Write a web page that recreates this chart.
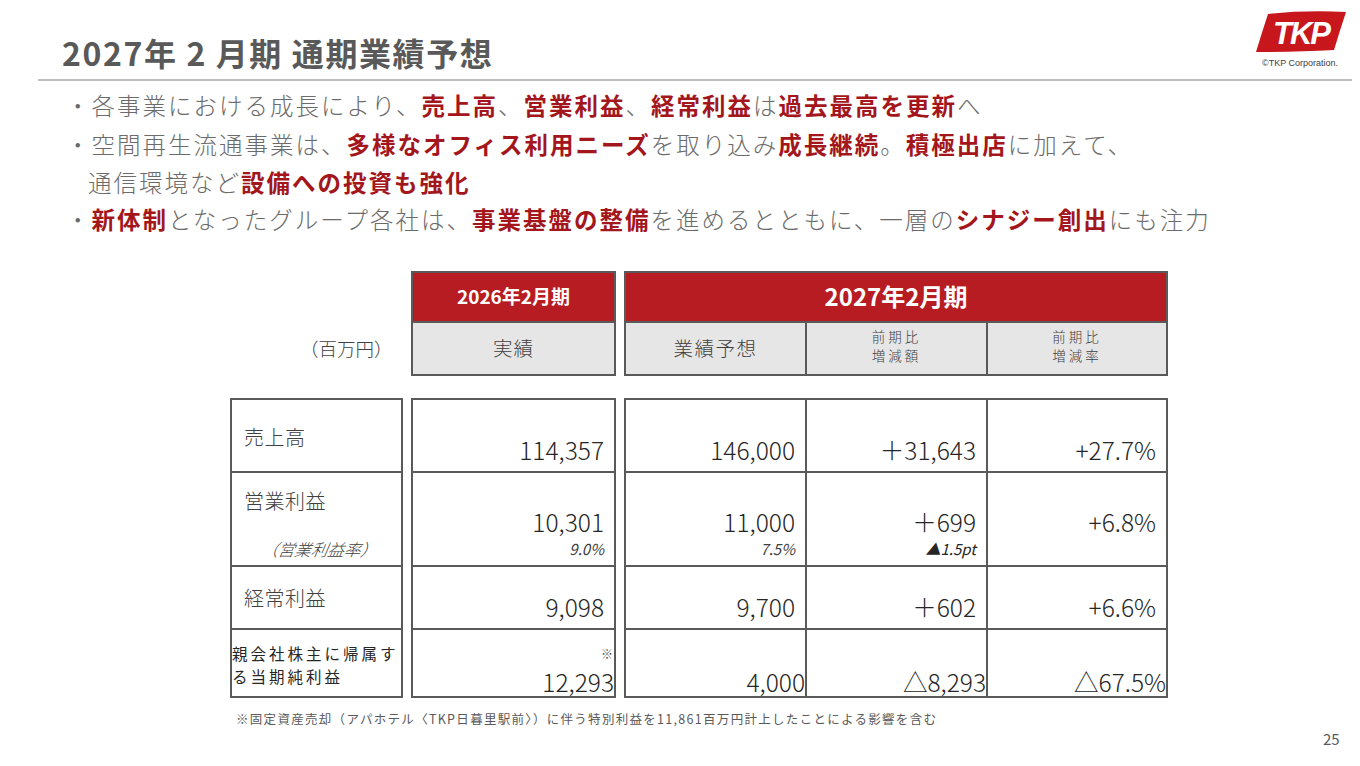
<!DOCTYPE html>
<html lang="ja">
<head>
<meta charset="utf-8">
<script src="https://cdn.jsdelivr.net/npm/chart.js@4.4.1/dist/chart.umd.min.js"></script>
<style>
  html, body { margin: 0; padding: 0; background: #fff; }
  body { width: 1360px; height: 766px; position: relative; overflow: hidden;
         font-family: "Noto Sans CJK JP", "Noto Sans", sans-serif; color: #404040; }
  .abs { position: absolute; white-space: nowrap; }
  #title { left: 62px; top: 29px; font-size: 32px; font-weight: 700; color: #595959; letter-spacing: 1.6px; }
  #rule { left: 38px; top: 79px; width: 1314px; height: 2px; background: #bfbfbf; }
  #copy { left: 1262px; top: 58px; font-family: "Liberation Sans", sans-serif; font-size: 9px; color: #404040; }
  #page { left: 1323px; top: 728px; font-size: 15px; color: #595959; }
  .bullet { left: 66px; font-size: 23.5px; color: #6b6b6b; letter-spacing: 2px; font-weight: 300; }
  .bullet b { color: #a3161c; font-weight: 700; }
  .cell { position: absolute; box-sizing: border-box; border: 2px solid #5a5a5a; }
  .hdr-red { background: #b71c22; color: #fff; font-weight: 700; text-align: center; }
  .hdr-gray { background: #e6e6e6; color: #404040; text-align: center; font-weight: 300; }
  .txt { position: absolute; white-space: nowrap; }
  #note { left: 236px; top: 709px; font-size: 12.5px; color: #595959; letter-spacing: 1.3px; }
</style>
</head>
<body>

<div class="abs" id="title">2027年 2 月期 通期業績予想</div>
<div class="abs" id="rule"></div>
<svg class="abs" style="left:1254px; top:10px" width="96" height="44" viewBox="0 0 96 44">
  <path d="M14 4 Q50 0 92 2 Q86 20 80 40 Q44 42 2 42 Q8 22 14 4 Z" fill="#c8161d"/>
  <text x="47" y="34" text-anchor="middle" font-family="Liberation Sans, sans-serif" font-size="31"
        font-weight="700" font-style="italic" fill="#fff" letter-spacing="-2">TKP</text>
</svg>
<div class="abs" id="copy">©TKP Corporation.</div>

<div class="abs bullet" style="top:88px">・各事業における成長により、<b>売上高</b>、<b>営業利益</b>、<b>経常利益</b>は<b>過去最高を更新</b>へ</div>
<div class="abs bullet" style="top:127px">・空間再生流通事業は、<b>多様なオフィス利用ニーズ</b>を取り込み<b>成長継続</b>。<b>積極出店</b>に加えて、</div>
<div class="abs bullet" style="top:165px; left:88px">通信環境など<b>設備への投資も強化</b></div>
<div class="abs bullet" style="top:202px">・<b>新体制</b>となったグループ各社は、<b>事業基盤の整備</b>を進めるとともに、一層の<b>シナジー創出</b>にも注力</div>

<div id="table"></div>

<div class="abs" id="note">※固定資産売却（アパホテル〈TKP日暮里駅前〉）に伴う特別利益を11,861百万円計上したことによる影響を含む</div>
<div class="abs" id="page">25</div>

<script>
// 表のデータ（百万円）
const periodLabels = ['2026年2月期', '2027年2月期'];
const columnLabels = ['実績', '業績予想', ['前期比', '増減額'], ['前期比', '増減率']];
const rowLabels = [['売上高'], ['営業利益'], ['経常利益'], ['親会社株主に帰属す', 'る当期純利益']];
const actual2026 = [114357, 10301, 9098, 12293];
const forecast2027 = [146000, 11000, 9700, 4000];
const diffAmount = [31643, 699, 602, -8293];
const diffRate = [27.7, 6.8, 6.6, -67.5];
const marginRate = [9.0, 7.5];
const marginDiff = -1.5;

// レイアウト（列と行の境界）
const colX = [[231, 402], [412, 615], [625, 806], [806, 987], [987, 1167]];
const rowY = [399, 472, 566, 629, 697];
const numCenter = [50, 49, 40, 52];
const labelCenter = [37, 28, 31, 23];

const fmt = (v) => Math.abs(v).toLocaleString('en-US');
const fmtAmount = (v) => (v >= 0 ? '＋' : '△') + fmt(v);
const fmtRate = (v) => (v >= 0 ? '+' : '△') + Math.abs(v).toFixed(1) + '%';

const table = document.getElementById('table');

const addCell = (x0, x1, y0, y1, cls, html, style) => {
    const d = document.createElement('div');
    d.className = 'cell ' + (cls || '');
    d.style.left = (x0 - 1) + 'px';
    d.style.top = (y0 - 1) + 'px';
    d.style.width = (x1 - x0 + 2) + 'px';
    d.style.height = (y1 - y0 + 2) + 'px';
    if (style) Object.assign(d.style, style);
    if (html) d.innerHTML = html;
    table.appendChild(d);
    return d;
};

const addText = (parent, html, style) => {
    const s = document.createElement('div');
    s.className = 'txt';
    s.innerHTML = html;
    Object.assign(s.style, style);
    parent.appendChild(s);
    return s;
};

// ヘッダー
addCell(412, 615, 272, 322, 'hdr-red', periodLabels[0], { fontSize: '19px', lineHeight: '46px' });
addCell(625, 1167, 272, 322, 'hdr-red', periodLabels[1], { fontSize: '24px', lineHeight: '46px' });
addCell(412, 615, 322, 375, 'hdr-gray', columnLabels[0], { fontSize: '19.5px', lineHeight: '49px', letterSpacing: '1px' });
addCell(625, 806, 322, 375, 'hdr-gray', columnLabels[1], { fontSize: '19.5px', lineHeight: '49px', letterSpacing: '1.5px' });
[2, 3].forEach((i) => {
    const cell = addCell(colX[i + 1][0], colX[i + 1][1], 322, 375, 'hdr-gray');
    columnLabels[i].forEach((line, k) => {
        addText(cell, line, { left: '0', right: '0', top: (k === 0 ? 4 : 23) + 'px', fontSize: '13.5px',
            lineHeight: '19px', letterSpacing: '3px', textAlign: 'center' });
    });
});

const unit = document.createElement('div');
unit.className = 'abs';
unit.textContent = '（百万円）';
Object.assign(unit.style, { left: '300px', top: '335px', fontSize: '18.5px', color: '#404040', fontWeight: '300' });
document.body.appendChild(unit);

// 本体
const columns = [
    actual2026.map(fmt),
    forecast2027.map(fmt),
    diffAmount.map(fmtAmount),
    diffRate.map(fmtRate)
];

rowLabels.forEach((lines, r) => {
    const y0 = rowY[r], y1 = rowY[r + 1];
    const lc = addCell(colX[0][0], colX[0][1], y0, y1);
    const last = r === rowLabels.length - 1;
    if (last) {
        lines.forEach((line, k) => {
            addText(lc, line, { left: '0px', top: (labelCenter[r] - 11 + k * 23) + 'px', fontSize: '15.5px',
                lineHeight: '22px', letterSpacing: '3px', color: '#262626' });
        });
    } else {
        addText(lc, lines[0], { left: '12px', top: (labelCenter[r] - 13) + 'px', fontSize: '20px', lineHeight: '26px', color: '#404040', fontWeight: '300', letterSpacing: '0.5px' });
    }
    if (r === 1) {
        addText(lc, '（営業利益率）', { left: '30px', top: '64px', fontSize: '16.5px', fontStyle: 'italic', color: '#404040', transform: 'skewX(-10deg)', fontWeight: '300' });
    }
    columns.forEach((vals, c) => {
        const cell = addCell(colX[c + 1][0], colX[c + 1][1], y0, y1);
        const pad = last ? 0 : 10;
        addText(cell, vals[r], {
            right: pad + 'px', top: (numCenter[r] - 14) + 'px', fontSize: '24.5px', lineHeight: '28px',
            color: '#262626', fontWeight: '300'
        });
        if (r === 1 && c < 2) {
            addText(cell, marginRate[c].toFixed(1) + '%', { right: '10px', top: '65px', fontSize: '15px', fontStyle: 'italic', color: '#404040' });
        }
        if (r === 1 && c === 2) {
            addText(cell, '▲' + Math.abs(marginDiff).toFixed(1) + 'pt', { right: '10px', top: '65px', fontSize: '15px', fontStyle: 'italic', color: '#262626' });
        }
        if (last && c === 0) {
            addText(cell, '※', { right: '1px', top: '18px', fontSize: '12px', lineHeight: '12px', color: '#595959' });
        }
    });
});
</script>
</body>
</html>
